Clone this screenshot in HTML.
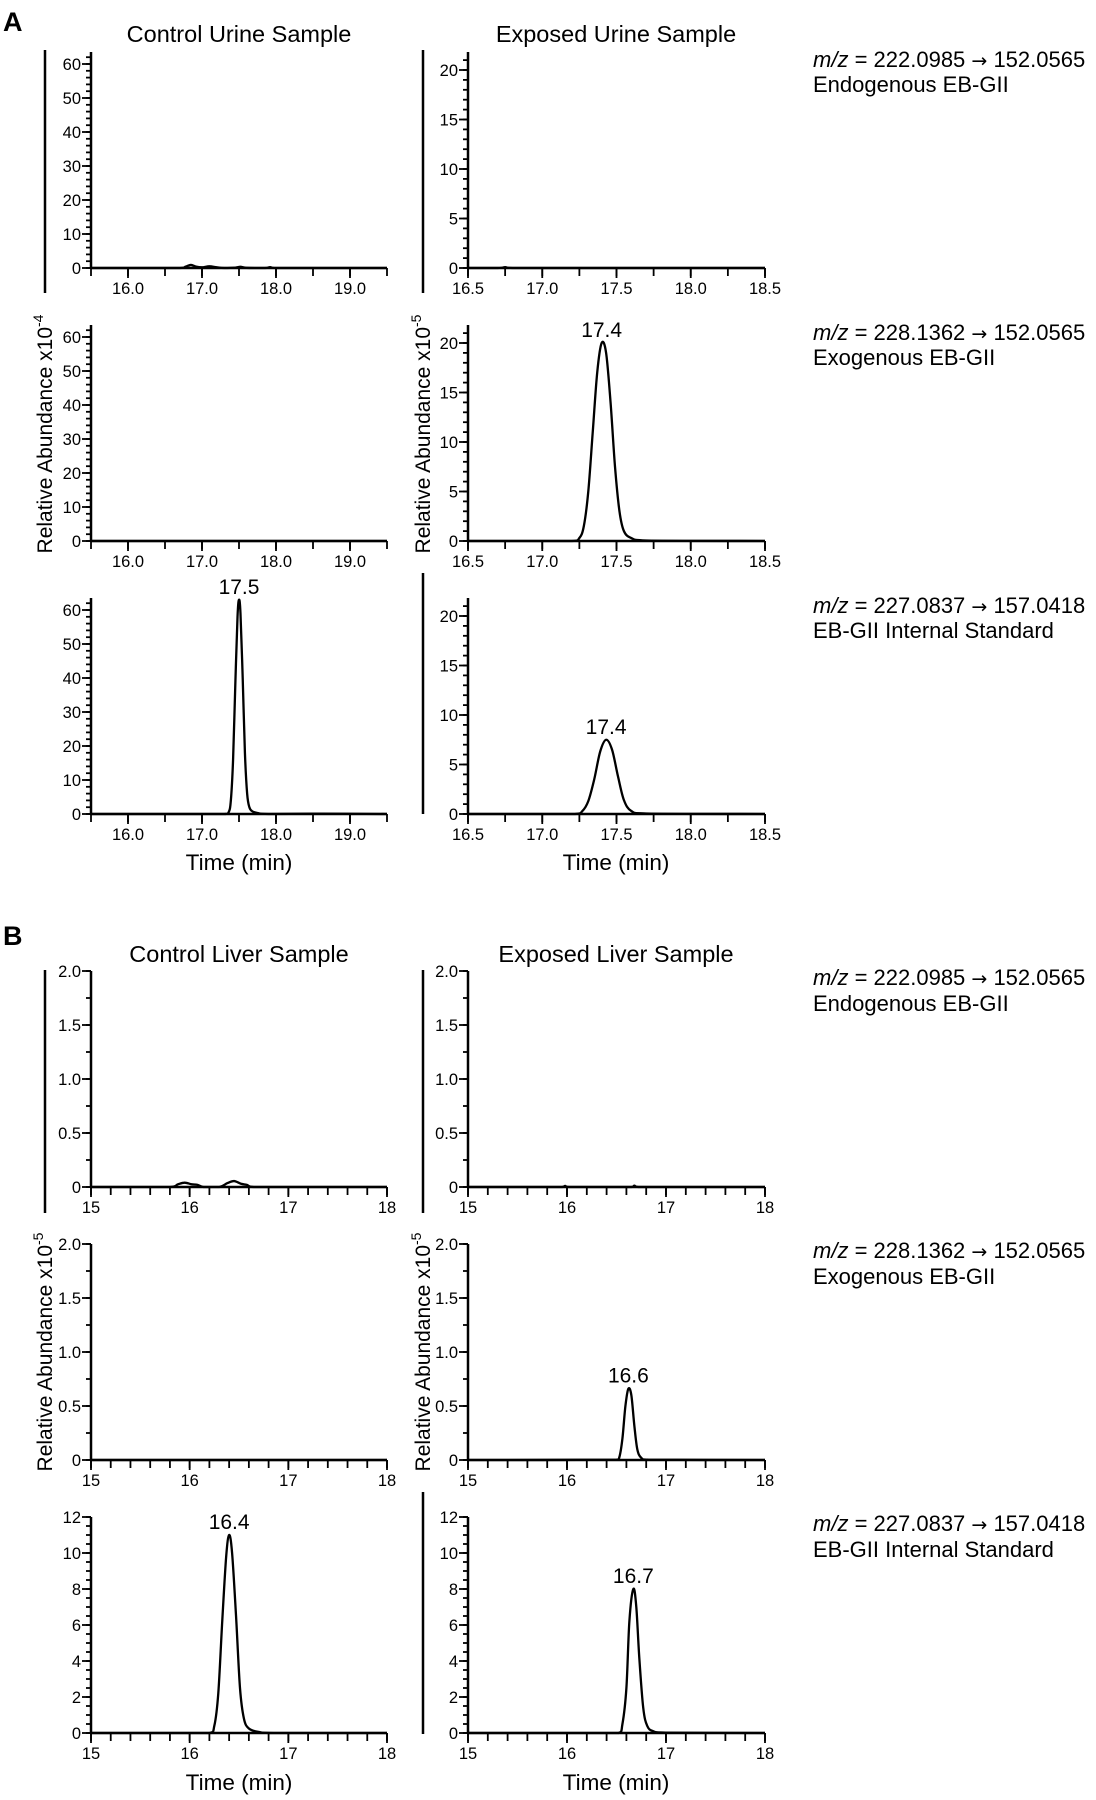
<!DOCTYPE html>
<html><head><meta charset="utf-8">
<style>
html,body{margin:0;padding:0;background:#fff;}
svg{display:block;font-family:"Liberation Sans",Arial,sans-serif;}
.arr{font-family:"DejaVu Sans",sans-serif;font-size:19px;}
</style></head>
<body>
<svg id="fig" width="1096" height="1800" viewBox="0 0 1096 1800" xmlns="http://www.w3.org/2000/svg">
<text x="3" y="31" font-size="27" font-weight="bold">A</text>
<text x="3" y="945" font-size="27" font-weight="bold">B</text>
<text x="239" y="42" font-size="23.5" text-anchor="middle">Control Urine Sample</text>
<text x="616" y="42" font-size="23.5" text-anchor="middle">Exposed Urine Sample</text>
<text x="239" y="962" font-size="23.5" text-anchor="middle">Control Liver Sample</text>
<text x="616" y="962" font-size="23.5" text-anchor="middle">Exposed Liver Sample</text>

<g font-size="22">
<text x="813" y="67"><tspan font-style="italic">m/z</tspan> = 222.0985 <tspan class="arr">→</tspan> 152.0565</text>
<text x="813" y="92">Endogenous EB-GII</text>
<text x="813" y="340"><tspan font-style="italic">m/z</tspan> = 228.1362 <tspan class="arr">→</tspan> 152.0565</text>
<text x="813" y="365">Exogenous EB-GII</text>
<text x="813" y="613"><tspan font-style="italic">m/z</tspan> = 227.0837 <tspan class="arr">→</tspan> 157.0418</text>
<text x="813" y="638">EB-GII Internal Standard</text>
<text x="813" y="985"><tspan font-style="italic">m/z</tspan> = 222.0985 <tspan class="arr">→</tspan> 152.0565</text>
<text x="813" y="1011">Endogenous EB-GII</text>
<text x="813" y="1258"><tspan font-style="italic">m/z</tspan> = 228.1362 <tspan class="arr">→</tspan> 152.0565</text>
<text x="813" y="1284">Exogenous EB-GII</text>
<text x="813" y="1531"><tspan font-style="italic">m/z</tspan> = 227.0837 <tspan class="arr">→</tspan> 157.0418</text>
<text x="813" y="1557">EB-GII Internal Standard</text>
</g>

<g font-size="21">
<text transform="translate(52,434) rotate(-90)" text-anchor="middle">Relative Abundance x10<tspan font-size="14" dy="-9">-4</tspan></text>
<text transform="translate(430,434) rotate(-90)" text-anchor="middle">Relative Abundance x10<tspan font-size="14" dy="-9">-5</tspan></text>
<text transform="translate(52,1352) rotate(-90)" text-anchor="middle">Relative Abundance x10<tspan font-size="14" dy="-9">-5</tspan></text>
<text transform="translate(430,1352) rotate(-90)" text-anchor="middle">Relative Abundance x10<tspan font-size="14" dy="-9">-5</tspan></text>
</g>

<g stroke="#000" stroke-width="2.5">
<line x1="45" y1="50" x2="45" y2="293"/>
<line x1="423" y1="50" x2="423" y2="293"/>
<line x1="423" y1="573" x2="423" y2="814"/>
<line x1="45" y1="970" x2="45" y2="1213"/>
<line x1="423" y1="970" x2="423" y2="1213"/>
<line x1="423" y1="1492" x2="423" y2="1734"/>
</g>

<g font-size="22.5" text-anchor="middle">
<text x="239" y="870">Time (min)</text>
<text x="616" y="870">Time (min)</text>
<text x="239" y="1790">Time (min)</text>
<text x="616" y="1790">Time (min)</text>
</g>
</svg>
<script>
// ---- data arrays (time in min, relative abundance) ----
var urineXTicks = [16.0, 17.0, 18.0, 19.0];
var urineExpXTicks = [16.5, 17.0, 17.5, 18.0, 18.5];
var urineCtrlYTicks = [0, 10, 20, 30, 40, 50, 60];
var urineExpYTicks = [0, 5, 10, 15, 20];
var liverXTicks = [15, 16, 17, 18];
var liverSmallYTicks = [0, 0.5, 1.0, 1.5, 2.0];
var liverLargeYTicks = [0, 2, 4, 6, 8, 10, 12];

var a1LeftT = [15.5, 16.7, 16.78, 16.85, 16.92, 17.0, 17.1, 17.2, 17.3, 17.45, 17.52, 17.6, 17.85, 17.92, 18.0, 19.5];
var a1LeftV = [0, 0, 0.4, 0.9, 0.4, 0.2, 0.5, 0.2, 0, 0.1, 0.35, 0.05, 0, 0.25, 0, 0];
var a1RightT = [16.5, 16.7, 16.75, 16.8, 18.5];
var a1RightV = [0, 0, 0.08, 0, 0];
var a2LeftT = [15.5, 19.5];
var a2LeftV = [0, 0];
var a2RightT = [16.5, 17.2, 17.25, 17.28, 17.31, 17.34, 17.37, 17.4, 17.43, 17.46, 17.49, 17.52, 17.55, 17.6, 17.7, 18.5];
var a2RightV = [0, 0, 0.3, 1.5, 5, 11, 17, 20, 19, 14, 7.5, 3, 1, 0.3, 0.05, 0];
var a3LeftT = [15.5, 17.3, 17.36, 17.39, 17.42, 17.45, 17.48, 17.5, 17.52, 17.55, 17.58, 17.61, 17.64, 17.68, 17.75, 17.9, 18.6, 19.5];
var a3LeftV = [0, 0, 0.5, 4, 16, 38, 58, 63, 59, 40, 18, 6, 2, 0.8, 0.3, 0, 0.1, 0];
var a3RightT = [16.5, 17.22, 17.27, 17.31, 17.35, 17.39, 17.43, 17.47, 17.51, 17.55, 17.6, 17.7, 18.5];
var a3RightV = [0, 0, 0.3, 1.3, 3.5, 6.3, 7.5, 6.5, 3.8, 1.4, 0.3, 0.05, 0];
var b1LeftT = [15, 15.8, 15.88, 15.95, 16.02, 16.08, 16.14, 16.3, 16.38, 16.45, 16.52, 16.58, 16.65, 18];
var b1LeftV = [0, 0, 0.025, 0.04, 0.025, 0.02, 0, 0, 0.035, 0.055, 0.03, 0.02, 0, 0];
var b1RightT = [15, 15.95, 15.98, 16.02, 16.65, 16.68, 16.72, 18];
var b1RightV = [0, 0, 0.01, 0, 0, 0.012, 0, 0];
var b2LeftT = [15, 18];
var b2LeftV = [0, 0];
var b2RightT = [15, 16.5, 16.53, 16.56, 16.59, 16.62, 16.65, 16.68, 16.71, 16.75, 16.82, 18];
var b2RightV = [0, 0.003, 0.03, 0.2, 0.5, 0.66, 0.6, 0.32, 0.1, 0.02, 0.003, 0];
var b3LeftT = [15, 16.2, 16.25, 16.29, 16.33, 16.37, 16.4, 16.43, 16.47, 16.51, 16.55, 16.6, 16.7, 16.85, 18];
var b3LeftV = [0, 0, 0.4, 2.2, 6.2, 9.8, 11, 10, 6.5, 2.5, 0.8, 0.25, 0.06, 0, 0];
var b3RightT = [15, 16.52, 16.56, 16.6, 16.63, 16.67, 16.7, 16.73, 16.77, 16.81, 16.87, 17.0, 18];
var b3RightV = [0, 0, 0.5, 2.5, 6.2, 8, 7, 4.2, 1.4, 0.4, 0.1, 0.02, 0];

var urineCtrlPeakLabel = "17.5", urineExpPeak2 = "17.4", urineExpPeak3 = "17.4";
var liverExpPeak2 = "16.6", liverCtrlPeak3 = "16.4", liverExpPeak3 = "16.7";

var NS = "http://www.w3.org/2000/svg";
var svg = document.getElementById('fig');
function mk(tag, attrs, parent) {
  var e = document.createElementNS(NS, tag);
  for (var k in attrs) e.setAttribute(k, attrs[k]);
  (parent || svg).appendChild(e);
  return e;
}

function panel(o) {
  var g = mk('g', {});
  
  
  var sx = function (t) { return o.x0 + (t - o.xmin) / (o.xmax - o.xmin) * (o.x1 - o.x0); };
  var sy = function (v) { return o.y0 - v / o.ymaxRef * o.ypx; };
  var ya = mk('line', {x1: o.x0, y1: o.ytop, x2: o.x0, y2: o.y0, stroke: '#000', 'stroke-width': 2.5}, g);
  
  
  var nm = Math.floor((o.y0 - o.ytop + 0.5) / (o.yminor / o.ymaxRef * o.ypx));
  for (var j = 0; j <= nm; j++) {
    var yy = sy(j * o.yminor);
    var t = mk('line', {x1: o.x0 - 5, y1: yy, x2: o.x0, y2: yy, stroke: '#000', 'stroke-width': 1.8}, g);
    
    
  }
  o.yticks.forEach(function (v) {
    var y = sy(v);
    mk('line', {x1: o.x0 - 9, y1: y, x2: o.x0, y2: y, stroke: '#000', 'stroke-width': 1.8}, g);
    var tx = mk('text', {x: o.x0 - 10, y: y + 6, 'font-size': 16.5, 'text-anchor': 'end'}, g);
    tx.textContent = (o.ydec && v !== 0) ? v.toFixed(1) : String(v);
    
    
  });
  var xa = mk('line', {x1: o.x0, y1: o.y0, x2: o.x1, y2: o.y0, stroke: '#000', 'stroke-width': 2.5}, g);
  
  
  var n = Math.round((o.xmax - o.xmin) / o.xminor);
  for (var i = 0; i <= n; i++) {
    var x = sx(o.xmin + i * o.xminor);
    var tk = mk('line', {x1: x, y1: o.y0, x2: x, y2: o.y0 + 8, stroke: '#000', 'stroke-width': 1.8}, g);
    
    
  }
  o.xticks.forEach(function (v) {
    var x = sx(v);
    mk('line', {x1: x, y1: o.y0, x2: x, y2: o.y0 + 10, stroke: '#000', 'stroke-width': 1.8}, g);
    var tx = mk('text', {x: x, y: o.y0 + 26, 'font-size': 16.5, 'text-anchor': 'middle'}, g);
    tx.textContent = o.xdec ? v.toFixed(1) : String(v);
    
    
  });
  var pts = o.T.map(function (t, k) { return [sx(t), sy(o.V[k])]; });
  var d = 'M' + pts[0][0].toFixed(2) + ',' + pts[0][1].toFixed(2);
  for (var q = 0; q < pts.length - 1; q++) {
    var p0 = pts[Math.max(0, q - 1)], p1 = pts[q], p2 = pts[q + 1], p3 = pts[Math.min(pts.length - 1, q + 2)];
    var c1x = p1[0] + (p2[0] - p0[0]) / 6, c1y = Math.min(p1[1] + (p2[1] - p0[1]) / 6, o.y0);
    var c2x = p2[0] - (p3[0] - p1[0]) / 6, c2y = Math.min(p2[1] - (p3[1] - p1[1]) / 6, o.y0);
    c1x = Math.max(p1[0], Math.min(p2[0], c1x));
    c2x = Math.max(p1[0], Math.min(p2[0], c2x));
    d += ' C' + c1x.toFixed(2) + ',' + c1y.toFixed(2) + ' ' + c2x.toFixed(2) + ',' + c2y.toFixed(2) + ' ' + p2[0].toFixed(2) + ',' + p2[1].toFixed(2);
  }
  var path = mk('path', {d: d, fill: 'none', stroke: '#000', 'stroke-width': 2.3, 'stroke-linejoin': 'round'}, g);
  
  
  if (o.peak) {
    var mi = 0;
    o.V.forEach(function (v, k) { if (v > o.V[mi]) mi = k; });
    var lb = mk('text', {x: sx(o.T[mi]), y: sy(o.V[mi]) - 6, 'font-size': 21, 'text-anchor': 'middle'}, g);
    lb.textContent = o.peak;
    
    
  }
}

var LX = [91, 387], RX = [468, 765];
var aZ = [268, 541, 814], bZ = [1187, 1460, 1733];

function urineCtrl(r, T, V, pk) {
  panel({name: 'urine-control-row' + (r + 1), x0: LX[0], x1: LX[1], xmin: 15.5, xmax: 19.5, xminor: 0.5, xticks: urineXTicks, xdec: true,
    y0: aZ[r], ytop: aZ[r] - 216, ymaxRef: 60, ypx: 204, yminor: 2, yticks: urineCtrlYTicks, ydec: false, T: T, V: V, peak: pk});
}
function urineExp(r, T, V, pk) {
  panel({name: 'urine-exposed-row' + (r + 1), x0: RX[0], x1: RX[1], xmin: 16.5, xmax: 18.5, xminor: 0.25, xticks: urineExpXTicks, xdec: true,
    y0: aZ[r], ytop: aZ[r] - 216, ymaxRef: 20, ypx: 198, yminor: 1, yticks: urineExpYTicks, ydec: false, T: T, V: V, peak: pk});
}
function liver(side, r, T, V, pk, big) {
  var xs = side === 'control' ? LX : RX;
  panel({name: 'liver-' + side + '-row' + (r + 1), x0: xs[0], x1: xs[1], xmin: 15, xmax: 18, xminor: 0.2, xticks: liverXTicks, xdec: false,
    y0: bZ[r], ytop: bZ[r] - 216, ymaxRef: big ? 12 : 2, ypx: 216, yminor: big ? 0.5 : 0.25,
    yticks: big ? liverLargeYTicks : liverSmallYTicks, ydec: !big, T: T, V: V, peak: pk});
}
function safe(f) { try { f(); } catch (e) { if (window.console) console.log(e); } }

safe(function () { urineCtrl(0, a1LeftT, a1LeftV, null); });
safe(function () { urineCtrl(1, a2LeftT, a2LeftV, null); });
safe(function () { urineCtrl(2, a3LeftT, a3LeftV, urineCtrlPeakLabel); });
safe(function () { urineExp(0, a1RightT, a1RightV, null); });
safe(function () { urineExp(1, a2RightT, a2RightV, urineExpPeak2); });
safe(function () { urineExp(2, a3RightT, a3RightV, urineExpPeak3); });
safe(function () { liver('control', 0, b1LeftT, b1LeftV, null, false); });
safe(function () { liver('control', 1, b2LeftT, b2LeftV, null, false); });
safe(function () { liver('control', 2, b3LeftT, b3LeftV, liverCtrlPeak3, true); });
safe(function () { liver('exposed', 0, b1RightT, b1RightV, null, false); });
safe(function () { liver('exposed', 1, b2RightT, b2RightV, liverExpPeak2, false); });
safe(function () { liver('exposed', 2, b3RightT, b3RightV, liverExpPeak3, true); });
</script>
</body></html>
